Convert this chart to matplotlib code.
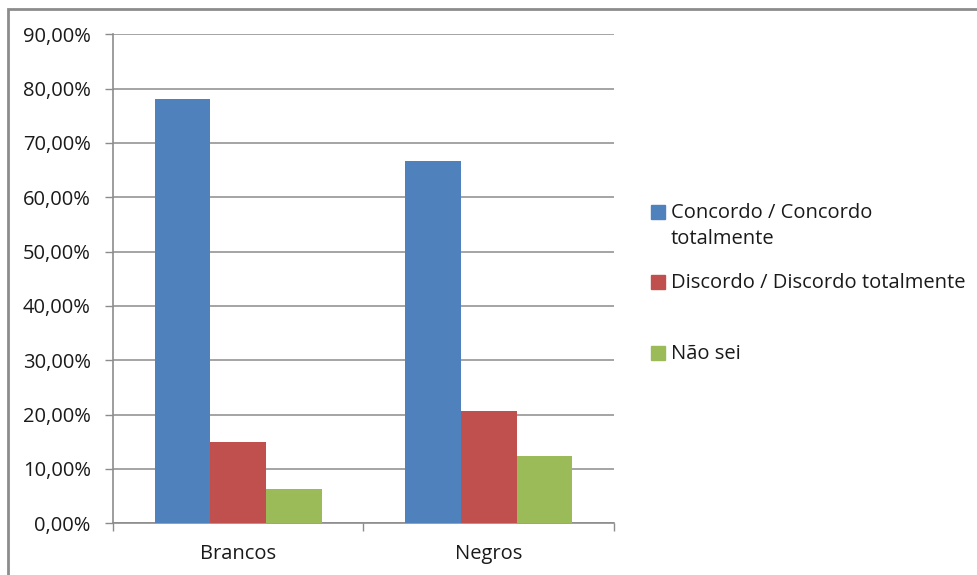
import matplotlib
matplotlib.use("Agg")
import matplotlib.pyplot as plt
from matplotlib.patches import Rectangle

# Dados
grupos = ["Brancos", "Negros"]
respostas = ["Concordo / Concordo\ntotalmente", "Discordo / Discordo totalmente", "Não sei"]
concordo = [0.781, 0.667]
discordo = [0.150, 0.206]
nao_sei = [0.063, 0.124]
cores = ["#4F81BD", "#C0504D", "#9BBB59"]

plt.rcParams["font.family"] = ["Open Sans", "DejaVu Sans"]
cor_texto = "#1a1a1a"
cor_linha = "#8c8c8c"
tamanho = 14.5

fig = plt.figure(figsize=(9.78, 5.75), dpi=100)
ax = fig.add_axes([113 / 978, 1 - 523.3 / 575, 501 / 978, 489 / 575])

largura = 0.222
series = [concordo, discordo, nao_sei]
for i, (valores, cor) in enumerate(zip(series, cores)):
    pos = [g + (i - 1) * largura for g in range(len(grupos))]
    ax.bar(pos, valores, width=largura, color=cor, zorder=3)

ax.set_xlim(-0.5, 1.5)
ax.set_ylim(0, 0.9)
ax.set_yticks([k / 10 for k in range(10)])
ax.set_yticklabels([f"{k * 10},00%" for k in range(10)])
ax.yaxis.grid(True, color=cor_linha, linewidth=1.1, zorder=0)

ax.set_xticks(range(len(grupos)))
ax.set_xticklabels(grupos)
ax.set_xticks([-0.5, 0.5, 1.5], minor=True)
ax.tick_params(axis="x", which="major", length=0, pad=15, labelsize=tamanho, labelcolor=cor_texto)
ax.tick_params(axis="x", which="minor", length=6, width=1, color=cor_linha)
ax.tick_params(axis="y", length=6, width=1, color=cor_linha, pad=10, labelsize=tamanho, labelcolor=cor_texto)

for lado in ["top", "right"]:
    ax.spines[lado].set_visible(False)
for lado in ["left", "bottom"]:
    ax.spines[lado].set_color(cor_linha)
    ax.spines[lado].set_linewidth(1.2)

# Legenda
y_legenda = [212, 282, 353]
for rotulo, cor, y in zip(respostas, cores, y_legenda):
    fig.patches.append(Rectangle((651 / 978, 1 - (y + 7) / 575), 14 / 978, 14 / 575,
                                 transform=fig.transFigure, color=cor, figure=fig))
    fig.text(671 / 978, 1 - (y - 9) / 575, rotulo, fontsize=tamanho, color=cor_texto,
             va="top", ha="left", linespacing=1.4)

# Moldura
fig.patches.append(Rectangle((8 / 978, -0.1), 1.2, 1 - 9 / 575 + 0.1, transform=fig.transFigure,
                             fill=False, edgecolor=cor_linha, linewidth=2, figure=fig))

fig.savefig("out.png", dpi=100)
